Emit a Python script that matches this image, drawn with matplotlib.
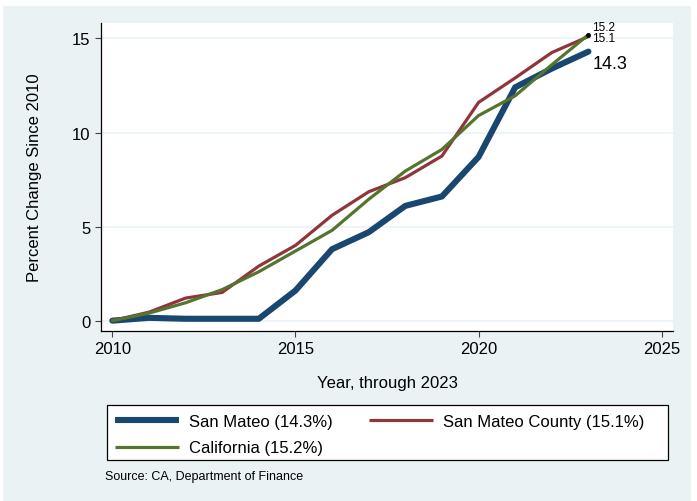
import numpy as np
import matplotlib
matplotlib.use('Agg')
import matplotlib.pyplot as plt
from matplotlib.patches import Rectangle
from matplotlib.lines import Line2D

plt.rcParams['font.family'] = ['Liberation Sans', 'DejaVu Sans']

years = list(range(2010, 2024))
san_mateo = [0.0, 0.15, 0.1, 0.1, 0.1, 1.6, 3.8, 4.7, 6.1, 6.6, 8.7, 12.4, 13.4, 14.3]
san_mateo_county = [0.0, 0.45, 1.2, 1.5, 2.9, 4.0, 5.6, 6.85, 7.6, 8.75, 11.6, 12.9, 14.25, 15.1]
california = [0.0, 0.4, 0.95, 1.65, 2.6, 3.7, 4.8, 6.45, 7.95, 9.1, 10.9, 11.95, 13.6, 15.2]

series_labels = ['San Mateo (14.3%)', 'San Mateo County (15.1%)', 'California (15.2%)']
x_ticks = [2010, 2015, 2020, 2025]
y_ticks = [0, 5, 10, 15]

bg = '#eaf2f3'
navy = '#1a476f'
maroon = '#90353b'
green = '#55752f'

W, H = 697, 502
fig = plt.figure(figsize=(W / 100, H / 100), dpi=100)
fig.patch.set_facecolor('white')
# light graph region behind everything
fig.patches.append(Rectangle((3 / W, 0), 688 / W, 495 / H, transform=fig.transFigure,
                             facecolor=bg, edgecolor='none', zorder=-10))

ax = fig.add_axes([101 / W, 1 - 332 / H, 572 / W, 308 / H])
ax.set_facecolor('white')
ax.set_zorder(1)

ax.plot(years, san_mateo, color=navy, lw=4.4, solid_capstyle='round',
        solid_joinstyle='round', zorder=3)
ax.plot(years, san_mateo_county, color=maroon, lw=2.3, solid_capstyle='round',
        solid_joinstyle='round', zorder=4)
ax.plot(years, california, color=green, lw=2.3, solid_capstyle='round',
        solid_joinstyle='round', zorder=5)

# end point labels
ax.plot(years[-1], california[-1], 'o', color='black', ms=2.5, zorder=6)
ax.annotate(f'{california[-1]:.1f}', (years[-1], california[-1]), xytext=(2.5, 5.5),
            textcoords='offset points', fontsize=8.5, va='center', ha='left')
ax.annotate(f'{san_mateo_county[-1]:.1f}', (years[-1], san_mateo_county[-1]), xytext=(2.5, -1.2),
            textcoords='offset points', fontsize=8.5, va='center', ha='left')
ax.annotate(f'{san_mateo[-1]:.1f}', (years[-1], san_mateo[-1]), xytext=(3, -8.5),
            textcoords='offset points', fontsize=13, va='center', ha='left')

ax.set_xlim(2009.69, 2025.31)
ax.set_ylim(-0.55, 15.82)
ax.set_xticks(x_ticks)
ax.set_yticks(y_ticks)
ax.yaxis.grid(True, color=bg, lw=1.2)
ax.set_axisbelow(True)
for s in ['top', 'right']:
    ax.spines[s].set_visible(False)
for s in ['left', 'bottom']:
    ax.spines[s].set_linewidth(0.9)
ax.tick_params(axis='both', labelsize=12, length=4, width=0.8, pad=3.5, color='#444444')

ax.set_xlabel('Year, through 2023', fontsize=12)
ax.xaxis.set_label_coords(0.5, -0.143)
ax.set_ylabel('Percent Change Since 2010', fontsize=12)
ax.yaxis.set_label_coords(-0.103, 0.5)

# legend box drawn on its own, entries placed inside it
fig.patches.append(Rectangle((106.7 / W, 1 - 461 / H), 561.3 / W, 55.3 / H,
                             transform=fig.transFigure, facecolor='white',
                             edgecolor='black', lw=0.9, zorder=2))
handles = [Line2D([], [], color=navy, lw=4.4, solid_capstyle='butt'),
           Line2D([], [], color=green, lw=2.3, solid_capstyle='butt'),
           Line2D([], [], color=maroon, lw=2.3, solid_capstyle='butt')]
labels = [series_labels[0], series_labels[2], series_labels[1]]
leg = fig.legend(handles, labels, loc='upper left', ncol=2,
                 bbox_to_anchor=(115 / W, 1 - 414.5 / H),
                 fontsize=12, frameon=False, handlelength=3.85, handletextpad=0.6,
                 borderaxespad=0, borderpad=0, labelspacing=0.72, columnspacing=2.15)
leg.set_zorder(3)

fig.text(105 / W, 1 - 477 / H, 'Source: CA, Department of Finance', fontsize=9,
         va='center', ha='left')

fig.savefig('out.png', dpi=100)
